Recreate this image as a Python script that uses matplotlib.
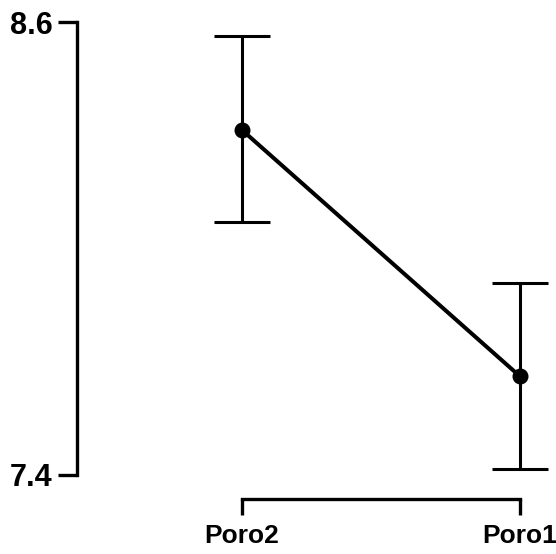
import matplotlib.pyplot as plt
import numpy as np

groups = ["Poro2", "Poro1"]
means = [8.314, 7.662]
upper = [8.563, 7.909]
lower = [8.070, 7.416]
y_ticks = [7.4, 8.6]
y_ticklabels = ["7.4", "8.6"]

plt.rcParams['font.family'] = ['Liberation Sans', 'DejaVu Sans']

fig = plt.figure(figsize=(5.56, 5.54), dpi=100)
ax = fig.add_axes([77 / 556, 79 / 554, 476 / 556, 453 / 554])

x = np.arange(len(groups))
means = np.array(means)
err = [means - np.array(lower), np.array(upper) - means]

ax.errorbar(x, means, yerr=err, fmt='none', ecolor='black', elinewidth=2.2,
            capsize=20, capthick=2.2, clip_on=False, zorder=2)
ax.plot(x, means, color='black', lw=2.9, marker='o', markersize=10.5,
        clip_on=False, zorder=3)

ax.set_xlim(-0.594, 1.12)
ax.set_ylim(7.4, 8.6)

for s in ['top', 'right']:
    ax.spines[s].set_visible(False)
ax.spines['left'].set_linewidth(2.4)
ax.spines['bottom'].set_linewidth(2.4)
ax.spines['bottom'].set_position(('outward', 17))
ax.spines['bottom'].set_bounds(0, 1)

ax.set_xticks(x)
ax.set_xticklabels(groups, fontsize=19, fontweight='bold')
ax.set_yticks(y_ticks)
ax.set_yticklabels(y_ticklabels, fontsize=22, fontweight='bold')
ax.tick_params(axis='x', direction='out', length=11.5, width=2.4, pad=7)
ax.tick_params(axis='y', direction='out', length=13.5, width=2.4, pad=4)

fig.savefig("out.png", dpi=100)
